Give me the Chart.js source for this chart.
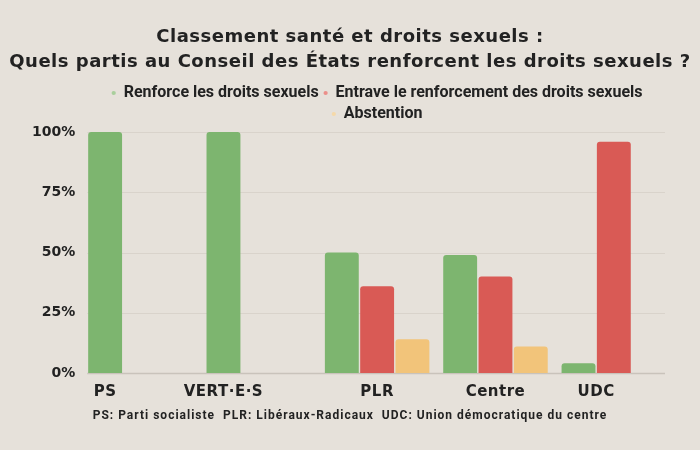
<!DOCTYPE html>
<html>
<head>
<meta charset="utf-8">
<script src="https://cdn.jsdelivr.net/npm/chart.js@4"></script>
<style>
  html, body { margin: 0; padding: 0; background: #e6e1da; }
  #wrap { width: 700px; height: 450px; }
</style>
</head>
<body>
<div id="wrap"><canvas id="c" width="700" height="450"></canvas></div>
<script>
const categories = ['PS', 'VERT·E·S', 'PLR', 'Centre', 'UDC'];
const seriesNames = ['Renforce les droits sexuels', 'Entrave le renforcement des droits sexuels', 'Abstention'];
const renforce = [100, 100, 50, 49, 4];
const entrave = [null, null, 36, 40, 96];
const abstention = [null, null, 14, 11, null];
const yTicks = [0, 25, 50, 75, 100];
const titleLines = ['Classement santé et droits sexuels :', 'Quels partis au Conseil des États renforcent les droits sexuels ?'];
const footnote = 'PS: Parti socialiste  PLR: Libéraux-Radicaux  UDC: Union démocratique du centre';

const colors = ['#7db56f', '#d95a55', '#f2c47a'];
const legendColors = ['#a9cf9c', '#eb8f8a', '#f5d9a9'];

const gridPlugin = {
  id: 'customGrid',
  beforeDatasetsDraw(chart) {
    const {ctx, chartArea, scales} = chart;
    const y = scales.y;
    const x0 = chartArea.left + 6, x1 = chartArea.right - 8;
    ctx.save();
    yTicks.forEach(v => {
      const py = Math.round(y.getPixelForValue(v)) + 0.5;
      ctx.strokeStyle = v === 0 ? '#c9c3bb' : '#d9d3cb';
      ctx.lineWidth = v === 0 ? 1.5 : 1;
      ctx.beginPath();
      ctx.moveTo(x0, py);
      ctx.lineTo(x1, py);
      ctx.stroke();
    });
    ctx.restore();
  }
};

const textPlugin = {
  id: 'texts',
  afterDatasetsDraw(chart) {
    const {ctx, chartArea} = chart;
    ctx.save();
    ctx.fillStyle = '#222222';
    ctx.textAlign = 'center';
    ctx.textBaseline = 'middle';

    // title
    ctx.font = 'bold 18px "DejaVu Sans"';
    try { ctx.letterSpacing = '0.5px'; } catch (e) {}
    titleLines.forEach((line, i) => ctx.fillText(line, chart.width / 2, 37 + i * 25));

    // category labels, centred under the bars that exist
    ctx.font = 'bold 15px "DejaVu Sans"';
    categories.forEach((cat, i) => {
      const xs = [];
      chart.data.datasets.forEach((ds, di) => {
        const v = ds.data[i];
        if (v !== null && v !== undefined) {
          const el = chart.getDatasetMeta(di).data[i];
          if (el) xs.push(el.x);
        }
      });
      const cx = xs.reduce((a, b) => a + b, 0) / xs.length;
      ctx.fillText(cat, cx, chartArea.bottom + 19);
    });

    // footnote
    ctx.font = 'bold 12px Roboto';
    try { ctx.letterSpacing = '1px'; } catch (e) {}
    ctx.fillText(footnote, chart.width / 2, chartArea.bottom + 43);
    ctx.restore();
  }
};

new Chart(document.getElementById('c'), {
  type: 'bar',
  data: {
    labels: categories,
    datasets: [
      { label: seriesNames[0], data: renforce, backgroundColor: colors[0] },
      { label: seriesNames[1], data: entrave, backgroundColor: colors[1] },
      { label: seriesNames[2], data: abstention, backgroundColor: colors[2] }
    ]
  },
  options: {
    responsive: false,
    animation: false,
    devicePixelRatio: 1,
    layout: { padding: { left: 26, right: 27, top: 80, bottom: 77 } },
    datasets: {
      bar: {
        categoryPercentage: 0.895,
        barPercentage: 0.96,
        borderRadius: { topLeft: 3, topRight: 3 },
        borderSkipped: 'bottom'
      }
    },
    scales: {
      x: { display: false },
      y: {
        min: 0,
        max: 100,
        afterBuildTicks(scale) { scale.ticks = yTicks.map(v => ({ value: v })); },
        grid: { display: false, drawTicks: false },
        border: { display: false },
        ticks: {
          padding: 6,
          color: '#222222',
          font: { family: 'DejaVu Sans', weight: 'bold', size: 14 },
          callback: v => v + '%'
        }
      }
    },
    plugins: {
      tooltip: { enabled: false },
      title: { display: false },
      legend: {
        display: true,
        position: 'top',
        fullSize: false,
        labels: {
          usePointStyle: true,
          pointStyle: 'circle',
          boxWidth: 4,
          boxHeight: 3,
          padding: 5,
          color: '#222222',
          font: { family: 'Roboto', weight: 'bold', size: 16 },
          generateLabels(chart) {
            return chart.data.datasets.map((ds, i) => ({
              text: ds.label,
              fillStyle: legendColors[i],
              strokeStyle: legendColors[i],
              lineWidth: 0,
              pointStyle: 'circle',
              datasetIndex: i,
              hidden: false,
              fontColor: '#222222'
            }));
          }
        }
      }
    }
  },
  plugins: [gridPlugin, textPlugin]
});
</script>
</body>
</html>
